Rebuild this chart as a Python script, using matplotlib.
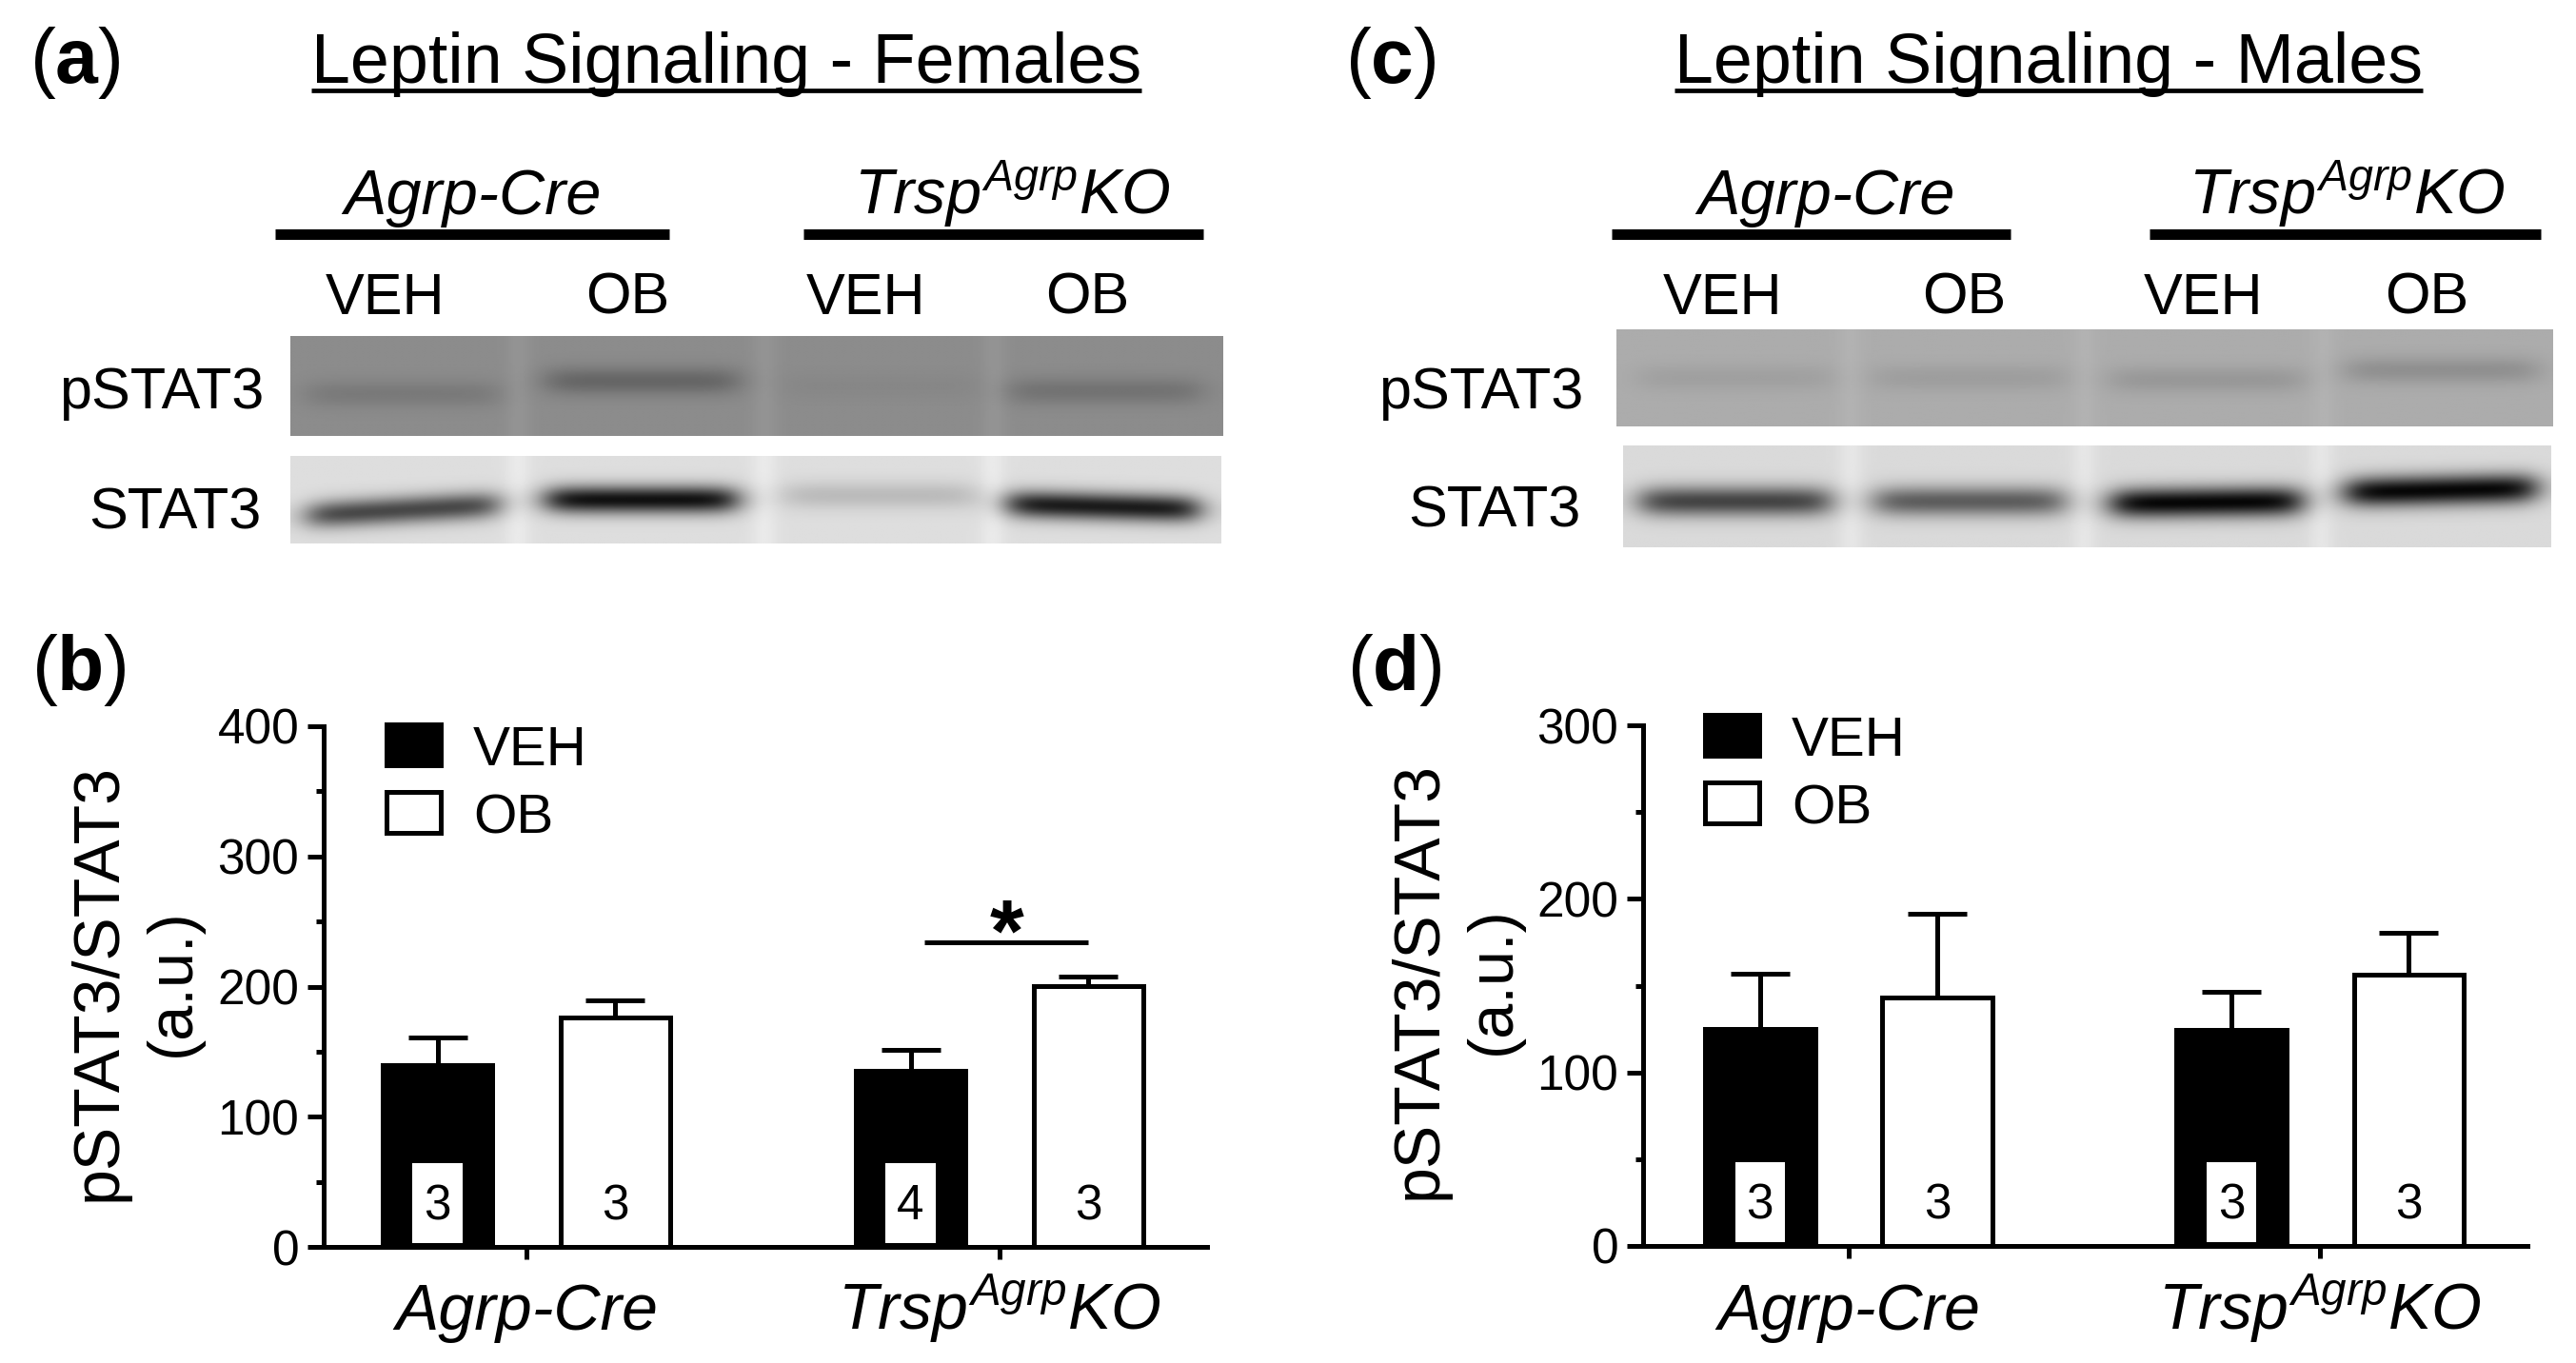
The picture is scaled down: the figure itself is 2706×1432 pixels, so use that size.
import numpy as np
import matplotlib
matplotlib.use('Agg')
import matplotlib.pyplot as plt
from matplotlib.patches import Rectangle
from matplotlib.lines import Line2D
import matplotlib.transforms as mtransforms
from matplotlib.ticker import MultipleLocator

plt.rcParams['font.family'] = ['Liberation Sans', 'DejaVu Sans']
plt.rcParams['mathtext.fontset'] = 'custom'
plt.rcParams['mathtext.it'] = 'Liberation Sans:italic'
plt.rcParams['mathtext.rm'] = 'Liberation Sans'
plt.rcParams['mathtext.bf'] = 'Liberation Sans:bold'

# ---------------- data ----------------
groups_plain = ['Agrp-Cre', r'$Trsp^{Agrp}KO$']
treatments = ['VEH', 'OB']
blot_lanes = ['VEH', 'OB', 'VEH', 'OB']
blot_rows = ['pSTAT3', 'STAT3']
titles = ['Leptin Signaling - Females', 'Leptin Signaling - Males']
panel_letters = ['a', 'b', 'c', 'd']
ylabel_main = 'pSTAT3/STAT3'
ylabel_unit = '(a.u.)'

fem_veh_mean = [140.0, 135.3]
fem_veh_sem = [21.2, 15.9]
fem_ob_mean = [176.4, 200.3]
fem_ob_sem = [12.7, 7.3]
fem_veh_n = [3, 4]
fem_ob_n = [3, 3]
fem_yticks = [0, 100, 200, 300, 400]
fem_sig_y = 234
fem_sig_label = '*'

male_veh_mean = [124.8, 124.4]
male_veh_sem = [32.1, 22.3]
male_ob_mean = [143.0, 156.2]
male_ob_sem = [48.3, 24.0]
male_veh_n = [3, 3]
male_ob_n = [3, 3]
male_yticks = [0, 100, 200, 300]

# western blot band darkness (0-255 scale) per lane
fem_pstat3_band = [18, 38, 5, 25]
fem_stat3_band = [150, 205, 35, 195]
male_pstat3_band = [12, 14, 20, 28]
male_stat3_band = [150, 125, 212, 212]

# ---------------- figure ----------------
W, H = 2706, 1432
fig = plt.figure(figsize=(W / 100, H / 100), dpi=100)
fig.patch.set_facecolor('white')
renderer = fig.canvas.get_renderer()


def fx(x):
    return x / W


def fy(y):
    return 1 - y / H


def fax(l, t, r, b):
    return fig.add_axes([l / W, 1 - b / H, (r - l) / W, (b - t) / H])


def ftext(x, y, s, **kw):
    return fig.text(fx(x), fy(y), s, **kw)


def fline(x0, x1, y, lw):
    fig.add_artist(Line2D([fx(x0), fx(x1)], [fy(y), fy(y)], transform=fig.transFigure,
                          color='black', lw=lw, solid_capstyle='butt'))


def blot_image(depths, centers, ys, tilts, bg, gaps, gap_light, sigma, halfw, nx=400, ny=80):
    xx = np.linspace(0, 1, nx)[None, :]
    yy = np.linspace(0, 1, ny)[:, None]
    img = np.full((ny, nx), float(bg))
    for g in gaps:
        img = img + gap_light * np.exp(-((xx - g) / 0.014) ** 2)
    for d, c, yc, t in zip(depths, centers, ys, tilts):
        horiz = 1 / (1 + np.exp(-(xx - (c - halfw)) / 0.01)) * 1 / (1 + np.exp(-((c + halfw) - xx) / 0.01))
        ycen = yc + t * (xx - c)
        vert = np.exp(-((yy - ycen) / sigma) ** 2)
        img = img - d * horiz * vert
    return np.clip(img, 0, 255)


def draw_blot(rect, img):
    ax = fax(*rect)
    ax.imshow(img, cmap='gray', vmin=0, vmax=255, aspect='auto', interpolation='bilinear')
    ax.set_axis_off()


def panel_label(x, y, letter):
    ftext(x, y, '(' + r'$\mathbf{' + letter + '}$' + ')', fontsize=58, ha='left', va='baseline')


def title(xc, y, s):
    t = ftext(xc, y, s, fontsize=53, ha='center', va='baseline')
    bb = t.get_window_extent(renderer)
    fig.add_artist(Line2D([bb.x0 / W, bb.x1 / W], [fy(y + 8), fy(y + 8)], transform=fig.transFigure,
                          color='black', lw=3.4, solid_capstyle='butt'))


def header(layout):
    for name, xc, x0, x1 in zip(groups_plain, layout['group_x'], layout['bar_x0'], layout['bar_x1']):
        if name.startswith('$'):
            ftext(xc, 225, name, fontsize=48, ha='center', va='baseline')
        else:
            ftext(xc, 225, name, fontsize=48, ha='center', va='baseline', style='italic')
        fline(x0, x1, 246, 8)
    for lab, xc in zip(blot_lanes, layout['lane_x']):
        ftext(xc, 330, lab, fontsize=44, ha='center', va='baseline')
    for lab, xr, yb in zip(blot_rows, layout['row_label_x'], layout['row_label_y']):
        ftext(xr, yb, lab, fontsize=44, ha='right', va='baseline')


# ---------------- panel a ----------------
panel_label(31, 87, panel_letters[0])
title(763, 87, titles[0])
header(dict(group_x=[496, 1063], bar_x0=[289, 844], bar_x1=[703, 1264],
            lane_x=[405, 659, 910, 1142], row_label_x=[277, 275], row_label_y=[429, 556]))
lanes_a = [0.120, 0.377, 0.633, 0.874]
gaps_a = [0.244, 0.509, 0.755]
draw_blot((305, 353, 1285, 458),
          blot_image(fem_pstat3_band, lanes_a, [0.58, 0.45, 0.5, 0.55], [0, 0, 0, 0],
                     140, gaps_a, 8, 0.14, 0.102))
draw_blot((305, 479, 1283, 571),
          blot_image(fem_stat3_band, lanes_a, [0.62, 0.5, 0.45, 0.58], [-0.6, 0, 0, 0.3],
                     222, gaps_a, 12, 0.16, 0.102))

# ---------------- panel c ----------------
panel_label(1413, 87, panel_letters[2])
title(2152, 87, titles[1])
header(dict(group_x=[1918, 2465], bar_x0=[1693, 2258], bar_x1=[2112, 2669],
            lane_x=[1810, 2063, 2315, 2549], row_label_x=[1663, 1661], row_label_y=[429, 554]))
draw_blot((1698, 346, 2681, 448),
          blot_image(male_pstat3_band, [0.126, 0.377, 0.631, 0.882], [0.5, 0.5, 0.52, 0.42], [0, 0, 0, 0],
                     172, [0.249, 0.5, 0.755], 6, 0.14, 0.102))
draw_blot((1705, 468, 2680, 575),
          blot_image(male_stat3_band, [0.12, 0.373, 0.629, 0.882], [0.55, 0.55, 0.56, 0.44], [0, 0, -0.1, -0.2],
                     218, [0.245, 0.497, 0.753], 12, 0.15, 0.102))


# ---------------- bar panels ----------------
LW = 3.6


def bar_panel(rect, xlim, veh_mean, veh_sem, ob_mean, ob_sem, veh_n, ob_n, yticks,
              legend_px, ylab_x, ylab_y, sig=None):
    l, t, r, b = rect
    ax = fax(l, t, r, b)
    x = np.arange(len(groups_plain))
    off, bw = 0.188, 0.233
    ax.bar(x - off, veh_mean, bw, color='black', edgecolor='black', linewidth=LW, zorder=2)
    ax.bar(x + off, ob_mean, bw, color='white', edgecolor='black', linewidth=LW, zorder=2)
    for xs, m, s in ((x - off, veh_mean, veh_sem), (x + off, ob_mean, ob_sem)):
        ax.errorbar(xs, m, yerr=[np.zeros(len(m)), s], fmt='none', ecolor='black',
                    elinewidth=LW, capsize=22, capthick=LW, zorder=1.5)
    ax.set_xlim(*xlim)
    ax.set_ylim(yticks[0], yticks[-1])
    ax.set_yticks(yticks)
    ax.yaxis.set_minor_locator(MultipleLocator(50))
    ax.set_xticks(x)
    ax.set_xticklabels([''] * len(x))
    for sp in ('top', 'right'):
        ax.spines[sp].set_visible(False)
    for sp in ('left', 'bottom'):
        ax.spines[sp].set_linewidth(LW)
    ax.tick_params(axis='y', which='major', length=12, width=LW, labelsize=37, pad=6.5)
    ax.tick_params(axis='y', which='minor', length=6, width=LW)
    ax.tick_params(axis='x', which='major', length=9, width=LW)
    ax.patch.set_alpha(0)

    blend_fig = mtransforms.blended_transform_factory(ax.transData, fig.transFigure)
    blend_ax = mtransforms.blended_transform_factory(ax.transData, ax.transAxes)
    # group labels
    for xi, name in zip(x, groups_plain):
        if name.startswith('$'):
            ax.text(xi, fy(1397), name, transform=blend_fig, fontsize=49, ha='center', va='baseline')
        else:
            ax.text(xi, fy(1397), name, transform=blend_fig, fontsize=49, ha='center',
                    va='baseline', style='italic')
    # n labels
    box_w = 0.105
    for xi, n in zip(x - off, veh_n):
        ax.add_patch(Rectangle((xi - box_w / 2, 0.007), box_w, 0.154, transform=blend_ax,
                               facecolor='white', edgecolor='none', zorder=3))
        ax.text(xi, 0.053, str(n), transform=blend_ax, fontsize=37, ha='center', va='baseline', zorder=4)
    for xi, n in zip(x + off, ob_n):
        ax.text(xi, 0.053, str(n), transform=blend_ax, fontsize=37, ha='center', va='baseline', zorder=4)
    # significance
    if sig is not None:
        gi, yv, lab = sig
        x0, x1 = gi - off + 0.03, gi + off
        ax.plot([x0, x1], [yv, yv], color='black', lw=LW, solid_capstyle='butt', clip_on=False)
        ax.text((x0 + x1) / 2, yv - 14, lab, fontsize=66, fontweight='bold', ha='center', va='baseline')
    # legend
    lx, ly0 = legend_px
    for i, (lab, fc) in enumerate(zip(treatments, ['black', 'white'])):
        top = ly0 + i * 71
        fig.add_artist(Rectangle((fx(lx), fy(top + 43)), 57 / W, 43 / H, transform=fig.transFigure,
                                 facecolor=fc, edgecolor='black', lw=LW))
        ftext(lx + 91, top + 43, lab, fontsize=42, ha='left', va='baseline')
    # y label
    ftext(ylab_x, ylab_y, ylabel_main, fontsize=49, rotation=90, ha='center', va='center')
    ftext(ylab_x + 78, ylab_y, ylabel_unit, fontsize=48, rotation=90, ha='center', va='center')
    return ax


panel_label(33, 725, panel_letters[1])
bar_panel((340, 763, 1268, 1310), (-0.4286, 1.4386), fem_veh_mean, fem_veh_sem, fem_ob_mean,
          fem_ob_sem, fem_veh_n, fem_ob_n, fem_yticks, (406, 761), 104, 1032,
          sig=(1, fem_sig_y, fem_sig_label))

panel_label(1415, 725, panel_letters[3])
bar_panel((1726, 762, 2655, 1309), (-0.436, 1.440), male_veh_mean, male_veh_sem, male_ob_mean,
          male_ob_sem, male_veh_n, male_ob_n, male_yticks, (1791, 751), 1491, 1030)

fig.savefig('out.png', dpi=100, facecolor='white')
